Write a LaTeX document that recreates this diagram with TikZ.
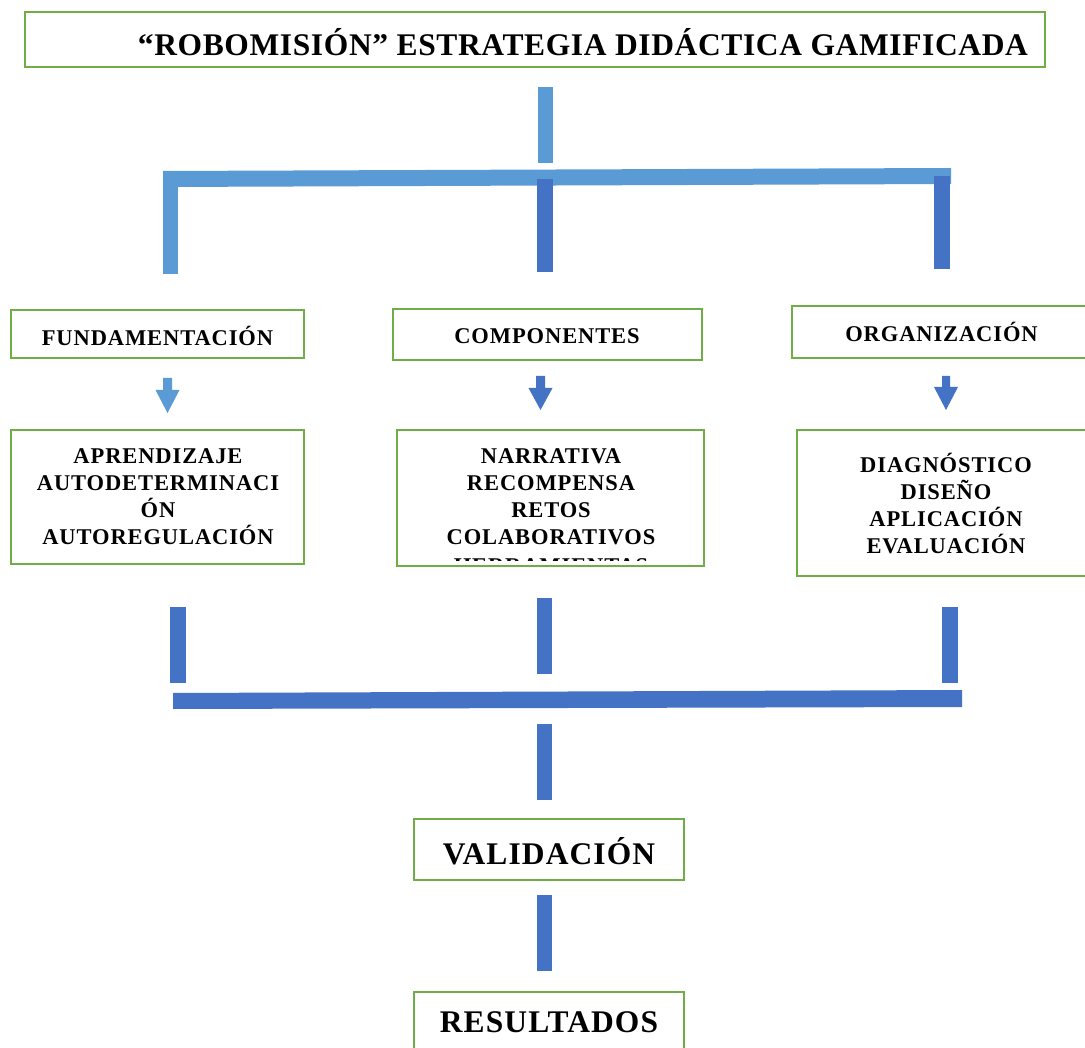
\documentclass[tikz,border=0pt]{standalone}
\usepackage{fontspec}
\setmainfont{Liberation Serif}
\newfontfamily\smallsp[LetterSpace=4]{Liberation Serif}
\newfontfamily\bigsp[LetterSpace=3.5]{Liberation Serif}
\newfontfamily\titlesp[LetterSpace=2]{Liberation Serif}
\definecolor{gbox}{HTML}{70AD47}
\definecolor{lblue}{HTML}{5B9BD5}
\definecolor{dblue}{HTML}{4472C4}
\begin{document}
\begin{tikzpicture}[x=1pt,y=-1pt,
  box/.style={draw=gbox, line width=2.5pt, fill=white, inner sep=0},
  txt/.style={font=\smallsp\bfseries\fontsize{22.5}{27}\selectfont, align=center, text=black, inner sep=0},
  bigtxt/.style={font=\bigsp\bfseries\fontsize{31.5}{36}\selectfont, text=black, inner sep=0},
  lbar/.style={fill=lblue},
  dbar/.style={fill=dblue}]
\clip (0,0) rectangle (1085,1048);
\fill[white] (0,0) rectangle (1085,1048);

% title
\node[box, minimum width=1020pt, minimum height=55pt] (title) at (535,39.5) {};
\node[font=\titlesp\bfseries\fontsize{31.5}{36}\selectfont, inner sep=0] (titletext) at (583,42) {“ROBOMISIÓN” ESTRATEGIA DIDÁCTICA GAMIFICADA};

% upper connectors
\fill[lbar] (538,87) rectangle (553,163);
\fill[lbar] (163,171) -- (951,168) -- (951,184) -- (163,187) -- cycle;
\fill[lbar] (163,171) rectangle (178,274);
\fill[dbar] (537,179) rectangle (553,272);
\fill[dbar] (934,176) rectangle (950,269);

% level 1 boxes
\node[box, minimum width=293pt, minimum height=48pt] (fund) at (157.5,334) {};
\node[txt] (fundt) at (157.5,336) {FUNDAMENTACIÓN};
\node[box, minimum width=309pt, minimum height=51pt] (comp) at (547.5,334.5) {};
\node[txt] (compt) at (547,336) {COMPONENTES};
\node[box, minimum width=320pt, minimum height=52pt] (org) at (952,332) {};
\node[txt] (orgt) at (941.5,332) {ORGANIZACIÓN};

% block arrows
\fill[lblue] (163,378) -- (172,378) -- (172,390) -- (179.5,390) -- (167.5,413) -- (155.5,390) -- (163,390) -- cycle;
\fill[dblue] (536,376) -- (545,376) -- (545,388) -- (552.5,388) -- (540.5,410) -- (528.5,388) -- (536,388) -- cycle;
\fill[dblue] (942,376) -- (950,376) -- (950,387) -- (958,387) -- (946,410) -- (934,387) -- (942,387) -- cycle;

% level 2 boxes
\node[box, minimum width=293pt, minimum height=134pt] (aprend) at (157.5,497) {};
\node[txt] (aprendt) at (158,497) {APRENDIZAJE\\AUTODETERMINACI\\ÓN\\AUTOREGULACIÓN};
\node[box, minimum width=307pt, minimum height=136pt] (narr) at (550.5,498) {};
\node[txt] (narrt) at (551,497) {NARRATIVA\\RECOMPENSA\\RETOS\\COLABORATIVOS};
\begin{scope}
\clip (400,550) rectangle (700,560);
\node[txt] (herr) at (551,566) {HERRAMIENTAS};
\end{scope}
\node[box, minimum width=300pt, minimum height=146pt] (diag) at (947,503) {};
\node[txt] (diagt) at (946,504) {DIAGNÓSTICO\\DISEÑO\\APLICACIÓN\\EVALUACIÓN};

% lower connectors
\fill[dbar] (170,607) rectangle (186,683);
\fill[dbar] (537,598) rectangle (552,674);
\fill[dbar] (942,607) rectangle (958,683);
\fill[dbar] (173,693) -- (962,690) -- (962,707) -- (173,709) -- cycle;
\fill[dbar] (537,724) rectangle (552,800);

% validation
\node[box, minimum width=270pt, minimum height=61pt] (valid) at (549,849.5) {};
\node[bigtxt] (validt) at (549,851) {VALIDACIÓN};
\fill[dbar] (537,895) rectangle (552,971);

% results
\node[box, minimum width=270pt, minimum height=80pt] (res) at (549,1032) {};
\node[bigtxt] (rest) at (549,1022) {RESULTADOS};
\end{tikzpicture}
\end{document}
